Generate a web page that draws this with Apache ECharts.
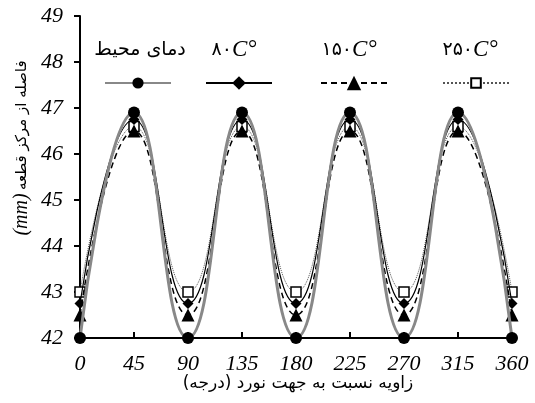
<!DOCTYPE html>
<html>
<head>
<meta charset="utf-8">
<script src="https://cdn.jsdelivr.net/npm/echarts@6/dist/echarts.min.js"></script>
<style>
html, body { margin: 0; padding: 0; background: #fff; }
#main { width: 535px; height: 403px; }
</style>
</head>
<body>
<div id="main"></div>
<script>
var angles = [0, 45, 90, 135, 180, 225, 270, 315, 360];
var ambient = [42, 46.9, 42, 46.9, 42, 46.9, 42, 46.9, 42];
var t80 = [42.75, 46.75, 42.75, 46.75, 42.75, 46.75, 42.75, 46.75, 42.75];
var t150 = [42.5, 46.5, 42.5, 46.5, 42.5, 46.5, 42.5, 46.5, 42.5];
var t250 = [43, 46.6, 43, 46.6, 43, 46.6, 43, 46.6, 43];
var names = ['دمای محیط', '۸۰C°', '۱۵۰C°', '۲۵۰C°'];

function pairs(vals) {
    return angles.map(function (a, i) { return [a, vals[i]]; });
}

var serif = 'Liberation Serif';
var chart = echarts.init(document.getElementById('main'));

// legend icons: one legend per item so the uneven spacing can be kept
var legendLefts = [99, 200, 315, 437];
var legendHeights = [14, 17, 18, 12];
var legends = names.map(function (n, i) {
    return {
        data: [n],
        left: legendLefts[i],
        top: 78 - legendHeights[i] / 2,
        itemWidth: 66,
        itemHeight: legendHeights[i],
        formatter: function () { return ''; },
        selectedMode: false,
        textStyle: { fontSize: 1 }
    };
});

var labelTexts = [
    { x: 140, text: '{p|دمای محیط}' },
    { x: 234, text: '{p|۸۰}{c|C°}' },
    { x: 349, text: '{p|۱۵۰}{c|C°}' },
    { x: 470, text: '{p|۲۵۰}{c|C°}' }
];
var rich = {
    p: { fontFamily: 'DejaVu Sans', fontSize: 19, fill: '#000' },
    c: { fontFamily: serif, fontStyle: 'italic', fontSize: 23, fill: '#000' }
};

chart.setOption({
    animation: false,
    backgroundColor: '#fff',
    grid: { left: 80, right: 23, top: 16, bottom: 65 },
    legend: legends,
    graphic: labelTexts.map(function (t) {
        return {
            type: 'text', x: t.x, y: 50,
            style: { text: t.text, rich: rich, align: 'center', verticalAlign: 'middle' }
        };
    }).concat([{
        type: 'text', x: 298, y: 384,
        style: { text: 'زاویه نسبت به جهت نورد (درجه)', fontFamily: 'DejaVu Sans', fontSize: 17, fill: '#000', align: 'center', verticalAlign: 'middle' }
    }, {
        type: 'text', x: 22, y: 148, rotation: Math.PI / 2,
        style: {
            text: '{m|(mm)} {p|فاصله از مرکز قطعه}',
            align: 'center', verticalAlign: 'middle',
            rich: {
                p: { fontFamily: 'DejaVu Sans', fontSize: 15, fill: '#000' },
                m: { fontFamily: serif, fontStyle: 'italic', fontSize: 20, fill: '#000' }
            }
        }
    }]),
    xAxis: {
        type: 'value', min: 0, max: 360, interval: 45,
        axisLine: { lineStyle: { color: '#000', width: 2 } },
        axisTick: { inside: true, length: 6, lineStyle: { color: '#000', width: 2 } },
        splitLine: { show: false },
        axisLabel: { color: '#000', fontFamily: serif, fontStyle: 'italic', fontSize: 22, margin: 15 }
    },
    yAxis: {
        type: 'value', min: 42, max: 49, interval: 1,
        axisLine: { show: true, lineStyle: { color: '#000', width: 2 } },
        axisTick: { show: true, length: 6, lineStyle: { color: '#000', width: 2 } },
        splitLine: { show: false },
        axisLabel: { color: '#000', fontFamily: serif, fontStyle: 'italic', fontSize: 22, margin: 17 }
    },
    series: [
        {
            name: names[3], type: 'line', smooth: true, data: pairs(t250),
            symbol: 'rect', symbolSize: 10,
            itemStyle: { color: '#fff', borderColor: '#000', borderWidth: 1.5 },
            lineStyle: { color: '#555', width: 1, type: 'dotted' }, z: 2
        },
        {
            name: names[2], type: 'line', smooth: true, data: pairs(t150),
            symbol: 'triangle', symbolSize: 13,
            itemStyle: { color: '#000' },
            lineStyle: { color: '#000', width: 1.5, type: [6, 4] }, z: 3
        },
        {
            name: names[1], type: 'line', smooth: true, data: pairs(t80),
            symbol: 'diamond', symbolSize: 11,
            itemStyle: { color: '#000' },
            lineStyle: { color: '#000', width: 1.2 }, z: 4
        },
        {
            name: names[0], type: 'line', smooth: true, data: pairs(ambient),
            symbol: 'circle', symbolSize: 12,
            itemStyle: { color: '#000' },
            lineStyle: { color: '#888', width: 3 }, z: 5
        }
    ]
});
</script>
</body>
</html>
